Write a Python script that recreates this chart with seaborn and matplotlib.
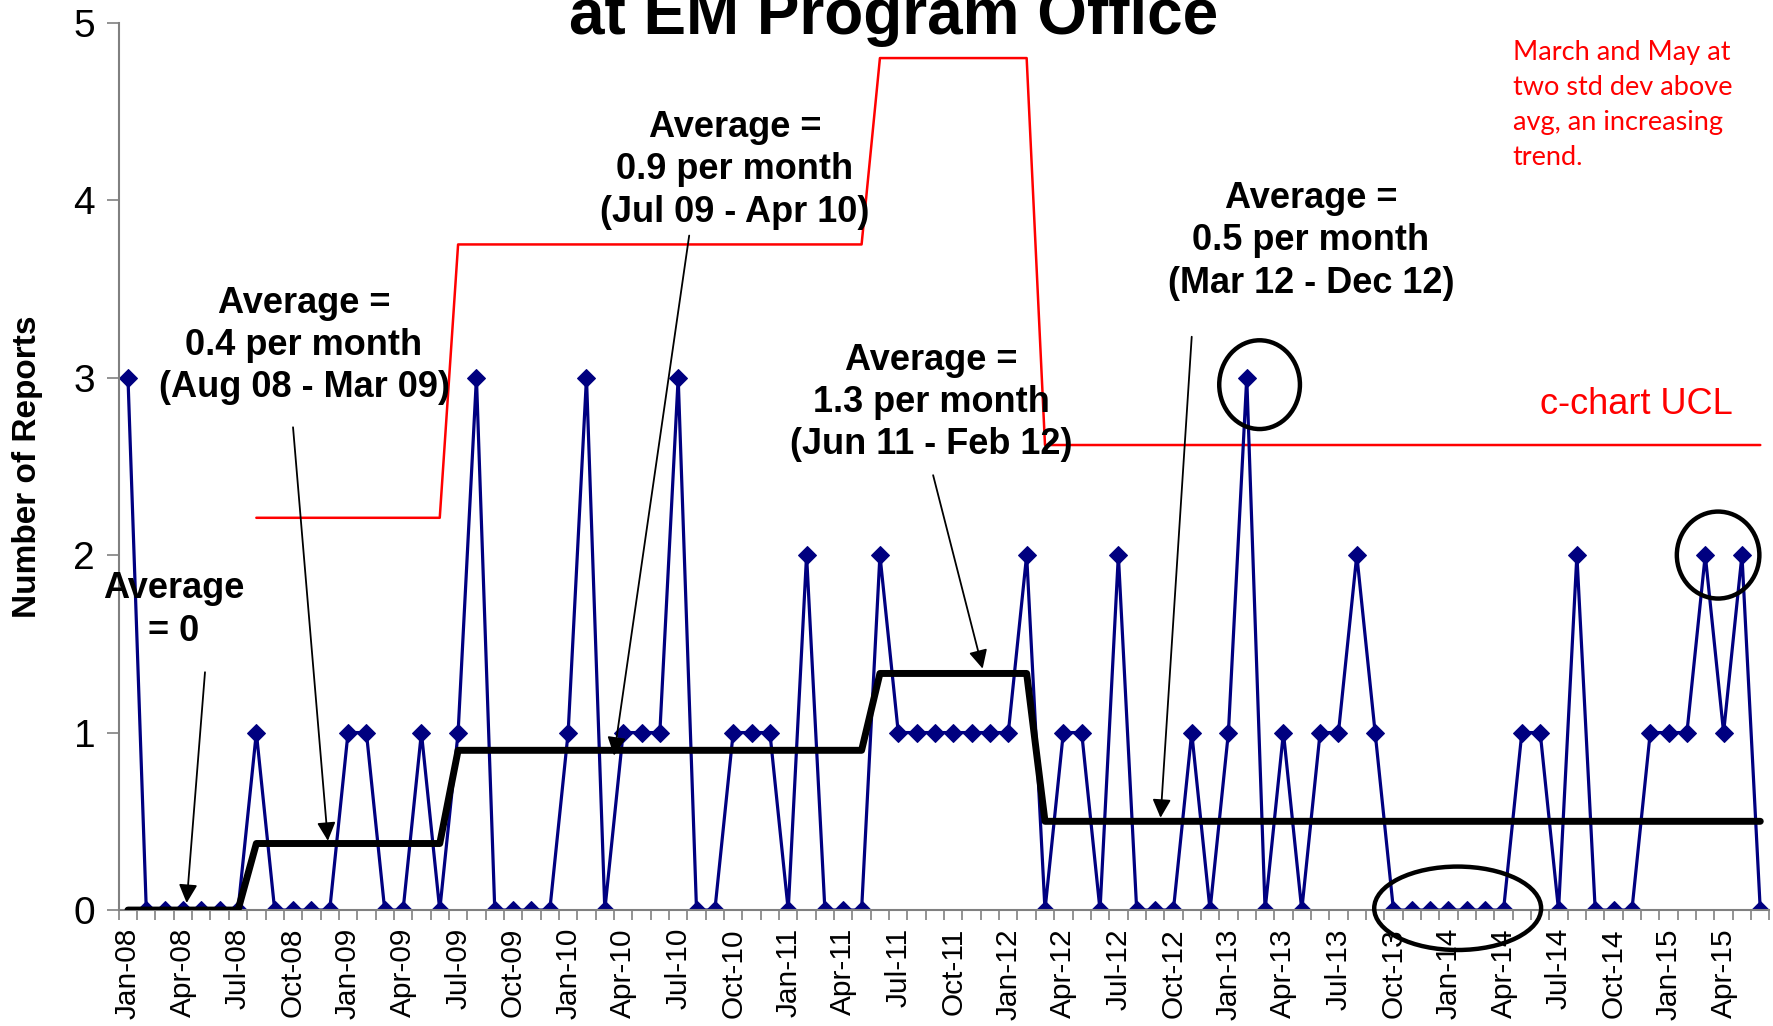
import numpy as np
import pandas as pd
import seaborn as sns
import matplotlib.pyplot as plt
from matplotlib.patches import Ellipse

# monthly report counts, Jan-08 .. Jun-15
months = pd.date_range('2008-01-01', periods=90, freq='MS').strftime('%b-%y').tolist()
reports = [3, 0, 0, 0, 0, 0, 0, 1, 0, 0, 0, 0,
           1, 1, 0, 0, 1, 0, 1, 3, 0, 0, 0, 0,
           1, 3, 0, 1, 1, 1, 3, 0, 0, 1, 1, 1,
           0, 2, 0, 0, 0, 2, 1, 1, 1, 1, 1, 1,
           1, 2, 0, 1, 1, 0, 2, 0, 0, 0, 1, 0,
           1, 3, 0, 1, 0, 1, 1, 2, 1, 0, 0, 0,
           0, 0, 0, 0, 1, 1, 0, 2, 0, 0, 0, 1,
           1, 1, 2, 1, 2, 0]

# period averages and c-chart upper control limits
seg_start = ['Jan-08', 'Aug-08', 'Jul-09', 'Jun-11', 'Mar-12']
seg_avg = [0, 0.375, 0.9, 1.333, 0.5]
seg_ucl = [np.nan, 2.21, 3.75, 4.80, 2.62]

starts = [months.index(m) for m in seg_start] + [len(months)]
avg_line, ucl_line = [], []
for k in range(len(seg_avg)):
    n = starts[k + 1] - starts[k]
    avg_line += [seg_avg[k]] * n
    ucl_line += [seg_ucl[k]] * n

df = pd.DataFrame({'i': range(len(months)), 'month': months, 'reports': reports,
                   'avg': avg_line, 'ucl': ucl_line})

sns.set_theme(style='white')
plt.rcParams['font.family'] = ['Liberation Sans', 'DejaVu Sans']
plt.rcParams['text.color'] = 'black'
plt.rcParams['axes.labelcolor'] = 'black'
plt.rcParams['xtick.color'] = 'black'
plt.rcParams['ytick.color'] = 'black'

fig = plt.figure(figsize=(17.73, 10.26), dpi=100)
ax = fig.add_axes([0.067, 0.113, 0.931, 0.865])

sns.lineplot(data=df, x='i', y='ucl', color='red', lw=1.8, ax=ax)
sns.lineplot(data=df, x='i', y='reports', color='#000080', lw=2.3, marker='D',
             markersize=9, markeredgecolor='#000080', ax=ax)
sns.lineplot(data=df, x='i', y='avg', color='black', lw=5, ax=ax, zorder=3)

ax.set_xlim(-0.5, len(months) - 0.5)
ax.set_ylim(0, 5)
ax.set_xlabel('')
ax.set_ylabel('Number of Reports', fontsize=24, fontweight='bold', labelpad=22)

ax.set_xticks(range(0, len(months), 3))
ax.set_xticklabels(months[::3], rotation=90)
ax.set_xticks(np.arange(-0.5, len(months), 1), minor=True)
ax.tick_params(axis='x', which='major', length=0, pad=13, labelsize=21.5, labelcolor='black')
ax.tick_params(axis='x', which='minor', length=7, color='#808080', width=1.2, bottom=True, direction='out')
ax.set_yticks(range(6))
ax.tick_params(axis='y', labelsize=28, length=9, color='#808080', width=1.2, left=True,
               direction='out', pad=8, labelcolor='black')

for s in ['top', 'right']:
    ax.spines[s].set_visible(False)
for s in ['left', 'bottom']:
    ax.spines[s].set_color('#808080')
    ax.spines[s].set_linewidth(1.5)

# annotations
bold = dict(fontsize=26, fontweight='bold', ha='center', va='center', linespacing=1.27)
arrow = dict(arrowstyle='-|>', color='black', lw=1.3, mutation_scale=28, shrinkA=0, shrinkB=0)

ax.text(2.5, 1.69, 'Average\n= 0', **bold)
ax.annotate('', xy=(3.2, 0.04), xytext=(4.2, 1.34), arrowprops=arrow)

ax.text(9.6, 3.18, 'Average =\n0.4 per month\n(Aug 08 - Mar 09)', **bold)
ax.annotate('', xy=(10.9, 0.39), xytext=(9.0, 2.72), arrowprops=arrow)

ax.text(33.1, 4.17, 'Average =\n0.9 per month\n(Jul 09 - Apr 10)', **bold)
ax.annotate('', xy=(26.5, 0.87), xytext=(30.6, 3.80), arrowprops=arrow)

ax.text(43.8, 2.86, 'Average =\n1.3 per month\n(Jun 11 - Feb 12)', **bold)
ax.annotate('', xy=(46.6, 1.36), xytext=(43.9, 2.45), arrowprops=arrow)

ax.text(64.5, 3.77, 'Average =\n0.5 per month\n(Mar 12 - Dec 12)', **bold)
ax.annotate('', xy=(56.3, 0.52), xytext=(58.0, 3.23), arrowprops=arrow)

ax.text(87.5, 2.85, 'c-chart UCL', color='red', fontsize=26, ha='right', va='center')
ax.text(75.5, 4.90, 'March and May at\ntwo std dev above\navg, an increasing\ntrend.',
        color='red', fontsize=19.5, ha='left', va='top', linespacing=1.5, family=['Lato', 'DejaVu Sans'])

for cx, cy, w, h in [(61.7, 2.96, 4.4, 0.50), (72.5, 0.01, 9.1, 0.47), (86.7, 2.0, 4.5, 0.49)]:
    ax.add_patch(Ellipse((cx, cy), w, h, fill=False, ec='black', lw=3.2, clip_on=False, zorder=5))

fig.text(0.504, 0.967, 'at EM Program Office', fontsize=46, fontweight='bold',
         ha='center', va='baseline')

fig.savefig('out.png', dpi=100)
